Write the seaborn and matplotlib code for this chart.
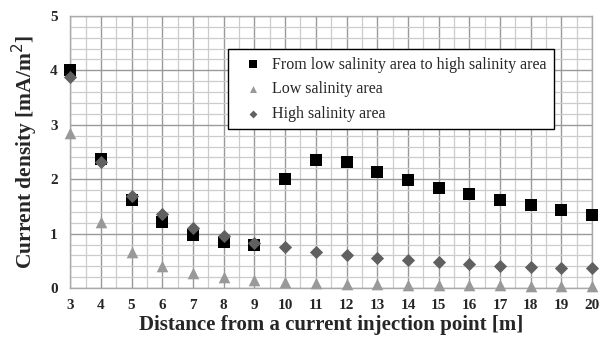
import matplotlib
matplotlib.use("Agg")
import matplotlib.pyplot as plt
from matplotlib.ticker import MultipleLocator
import seaborn as sns
import pandas as pd

distance = list(range(3, 21))
from_low_to_high = [4.00, 2.37, 1.62, 1.22, 0.98, 0.85, 0.80, 2.00, 2.36, 2.31,
                    2.14, 1.98, 1.84, 1.72, 1.62, 1.53, 1.44, 1.35]
low_salinity = [2.85, 1.21, 0.67, 0.41, 0.28, 0.20, 0.15, 0.12, 0.09, 0.08,
                0.07, 0.06, 0.06, 0.05, 0.05, 0.04, 0.04, 0.04]
high_salinity = [3.88, 2.31, 1.70, 1.36, 1.11, 0.95, 0.82, 0.75, 0.67, 0.61,
                 0.55, 0.52, 0.48, 0.44, 0.41, 0.39, 0.37, 0.36]
series_names = ["From low salinity area to high salinity area",
                "Low salinity area", "High salinity area"]

df = pd.concat([
    pd.DataFrame({"x": distance, "y": vals, "series": name})
    for name, vals in zip(series_names, [from_low_to_high, low_salinity, high_salinity])
])

sns.set_style("white")
plt.rcParams["font.family"] = ["Liberation Serif", "DejaVu Serif"]

fig = plt.figure(figsize=(6.0, 3.45), dpi=100)
ax = fig.add_axes([0.117, 0.165, 0.87, 0.789])

palette = {series_names[0]: "#000000", series_names[1]: "#999999", series_names[2]: "#606060"}
markers = {series_names[0]: "s", series_names[1]: "^", series_names[2]: "D"}
sizes = {series_names[0]: 80, series_names[1]: 70, series_names[2]: 45}

for name in series_names:
    sub = df[df["series"] == name]
    sns.scatterplot(data=sub, x="x", y="y", ax=ax, color=palette[name],
                    marker=markers[name], s=sizes[name], linewidth=0,
                    label=name, zorder=3, clip_on=False)

ax.set_xlim(3, 20)
ax.set_ylim(0, 5)
ax.xaxis.set_major_locator(MultipleLocator(1))
ax.xaxis.set_minor_locator(MultipleLocator(0.5))
ax.yaxis.set_major_locator(MultipleLocator(1))
ax.yaxis.set_minor_locator(MultipleLocator(0.2))
ax.grid(which="major", color="#999999", linewidth=1.0, zorder=0)
ax.grid(which="minor", color="#cccccc", linewidth=0.9, zorder=0)
ax.set_axisbelow(True)
for side in ["top", "right", "left", "bottom"]:
    ax.spines[side].set_color("#aaaaaa")
    ax.spines[side].set_linewidth(1.0)
ax.tick_params(axis="x", which="both", direction="out", length=3, color="#999999",
               labelsize=11, pad=5)
ax.tick_params(axis="y", which="both", length=0, labelsize=11, pad=9)
for lab in ax.get_xticklabels() + ax.get_yticklabels():
    lab.set_fontweight("bold")

ax.set_xlabel("Distance from a current injection point [m]", fontsize=15,
              fontweight="bold", labelpad=2)
ax.set_ylabel("Current density [mA/m$^2$]", fontsize=15.5, fontweight="bold", labelpad=7)

leg = ax.legend(loc="upper left", bbox_to_anchor=(0.303, 0.877), fontsize=11.5,
                frameon=True, fancybox=False, edgecolor="black", framealpha=1,
                handletextpad=0.1, borderpad=0.45, labelspacing=0.55,
                handlelength=2.2, markerscale=0.6, borderaxespad=0)
leg.get_frame().set_linewidth(1.0)

fig.savefig("out.png", dpi=100)
